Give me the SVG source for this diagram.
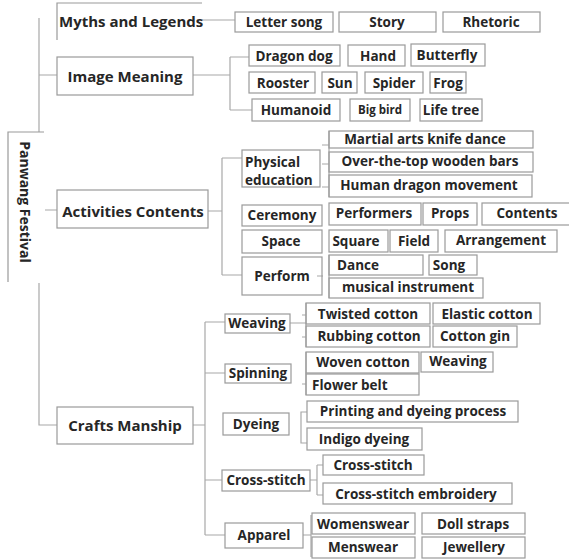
<svg xmlns="http://www.w3.org/2000/svg" width="569" height="560" viewBox="0 0 569 560">
<style>
.b{fill:none;stroke:#9a9a9a;stroke-width:1.2}
.c{fill:none;stroke:#a8a8a8;stroke-width:1.2}
text{font-family:"Open Sans","Noto Sans","DejaVu Sans",sans-serif;font-weight:bold;fill:#262626;dominant-baseline:central}
.t{font-size:13.5px;text-anchor:middle}
.s{font-size:13.5px}
.L{font-size:15px;text-anchor:middle}
</style>
<rect width="569" height="560" fill="#fff"/>
<g id="connectors">
<path class="c" d="M39,18 V132 M39,283 V425 H57 M39,75 H57 M45,210 H57"/>
<path class="c" d="M202,20 H235"/>
<path class="c" d="M193,75 H230 M230,57 V110 M230,57 H249 M230,110 H252"/>
<path class="c" d="M208,211 H222 M222,158 V275 M222,158 H242 M222,275 H242"/>
<path class="c" d="M322,145 H329 M322,164 H329 M322,187 H329 M329,131 V197"/>
<path class="c" d="M317,276 H323 M329,255 V298"/>
<path class="c" d="M193,425 H205 M205,322 V535 M205,322 H225 M205,373 H225 M205,480 H222 M205,535 H225"/>
<path class="c" d="M290,323 H306 M302,315 H306 M302,337 H306 M306,303 V347"/>
<path class="c" d="M302,384 H306 M306,352 V395"/>
<path class="c" d="M307,412 H301 V443 H307"/>
<path class="c" d="M310,480 H317 M317,465 V495 M317,465 H323 M317,495 H323"/>
<path class="c" d="M303,535 H311 M311,515 V557"/>
</g>
<g id="root"><path class="b" d="M44,132 H8 V282"/><text transform="translate(25,202) rotate(90)" style="font-size:14px;text-anchor:middle">Panwang Festival</text></g>
<g id="myths"><path class="b" d="M57,40 V3 H202"/><text x="59" y="21" style="font-size:15px">Myths and Legends</text></g>
<g id="image"><rect class="b" x="57" y="57" width="136" height="38"/><text class="L" x="125" y="76">Image Meaning</text></g>
<g id="activities"><rect class="b" x="57" y="190" width="151" height="38"/><text class="L" x="133" y="211">Activities Contents</text></g>
<g id="crafts"><rect class="b" x="57" y="407" width="136" height="37"/><text class="L" x="125" y="425">Crafts Manship</text></g>

<g id="letter-song"><rect class="b" x="235" y="12" width="98" height="20"/><text class="t" x="284" y="22">Letter song</text></g>
<g id="story"><rect class="b" x="339" y="12" width="97" height="20"/><text class="t" x="387" y="22">Story</text></g>
<g id="rhetoric"><rect class="b" x="443" y="12" width="97" height="20"/><text class="t" x="491" y="22">Rhetoric</text></g>

<g id="dragon-dog"><rect class="b" x="249" y="45" width="91" height="21"/><text class="t" x="294" y="56">Dragon dog</text></g>
<g id="hand"><rect class="b" x="348" y="45" width="57" height="21"/><text class="t" x="378" y="56">Hand</text></g>
<g id="butterfly"><rect class="b" x="411" y="44" width="74" height="22"/><text class="t" x="447" y="55">Butterfly</text></g>
<g id="rooster"><rect class="b" x="249" y="72" width="66" height="21"/><text class="t" x="283" y="83">Rooster</text></g>
<g id="sun"><rect class="b" x="322" y="72" width="35" height="21"/><text class="t" x="340" y="83">Sun</text></g>
<g id="spider"><rect class="b" x="365" y="72" width="58" height="21"/><text class="t" x="394" y="83">Spider</text></g>
<g id="frog"><rect class="b" x="430" y="72" width="36" height="21"/><text class="t" x="448" y="83">Frog</text></g>
<g id="humanoid"><rect class="b" x="252" y="99" width="88" height="22"/><text class="t" x="296" y="110">Humanoid</text></g>
<g id="big-bird"><rect class="b" x="350" y="99" width="60" height="22"/><text class="t" x="380" y="109" style="font-size:11.5px">Big bird</text></g>
<g id="life-tree"><rect class="b" x="420" y="99" width="62" height="22"/><text class="t" x="451" y="110">Life tree</text></g>

<g id="physical"><rect class="b" x="242" y="150" width="78" height="37"/><text class="s" x="245" y="162">Physical</text><text class="s" x="245" y="180">education</text></g>
<g id="ceremony"><rect class="b" x="242" y="205" width="80" height="21"/><text class="t" x="282" y="215">Ceremony</text></g>
<g id="space"><rect class="b" x="242" y="230" width="80" height="23"/><text class="t" x="281" y="241">Space</text></g>
<g id="perform"><rect class="b" x="242" y="257" width="80" height="38"/><text class="t" x="282" y="276">Perform</text></g>

<g id="martial"><rect class="b" x="329" y="131" width="204" height="17"/><text class="t" x="425" y="139">Martial arts knife dance</text></g>
<g id="wooden-bars"><rect class="b" x="329" y="152" width="204" height="20"/><text class="t" x="430" y="161">Over-the-top wooden bars</text></g>
<g id="human-dragon"><rect class="b" x="329" y="175" width="203" height="22"/><text class="t" x="429" y="185">Human dragon movement</text></g>
<g id="performers"><rect class="b" x="329" y="203" width="92" height="22"/><text class="t" x="374" y="213">Performers</text></g>
<g id="props"><rect class="b" x="423" y="203" width="54" height="22"/><text class="t" x="450" y="213">Props</text></g>
<g id="contents"><rect class="b" x="482" y="203" width="90" height="22"/><text class="t" x="527" y="213">Contents</text></g>
<g id="square"><rect class="b" x="329" y="230" width="59" height="22"/><text class="t" x="356" y="241">Square</text></g>
<g id="field"><rect class="b" x="390" y="230" width="48" height="22"/><text class="t" x="414" y="241">Field</text></g>
<g id="arrangement"><rect class="b" x="445" y="230" width="112" height="22"/><text class="t" x="501" y="240">Arrangement</text></g>
<g id="dance"><rect class="b" x="329" y="255" width="94" height="20"/><text class="s" x="337" y="265">Dance</text></g>
<g id="song"><rect class="b" x="429" y="255" width="48" height="20"/><text class="t" x="449" y="265">Song</text></g>
<g id="musical"><rect class="b" x="329" y="278" width="154" height="20"/><text class="t" x="408" y="287">musical instrument</text></g>

<g id="weaving"><rect class="b" x="225" y="314" width="65" height="19"/><text class="t" x="257" y="323">Weaving</text></g>
<g id="spinning"><rect class="b" x="225" y="364" width="66" height="19"/><text class="t" x="258" y="373">Spinning</text></g>
<g id="dyeing"><rect class="b" x="223" y="413" width="66" height="22"/><text class="t" x="256" y="424">Dyeing</text></g>
<g id="cross-stitch"><rect class="b" x="222" y="470" width="88" height="21"/><text class="t" x="266" y="480">Cross-stitch</text></g>
<g id="apparel"><rect class="b" x="225" y="523" width="78" height="25"/><text class="t" x="264" y="535">Apparel</text></g>

<g id="twisted"><rect class="b" x="306" y="303" width="124" height="21"/><text class="t" x="368" y="314">Twisted cotton</text></g>
<g id="elastic"><rect class="b" x="433" y="303" width="107" height="21"/><text class="t" x="487" y="314">Elastic cotton</text></g>
<g id="rubbing"><rect class="b" x="306" y="326" width="124" height="21"/><text class="t" x="369" y="336">Rubbing cotton</text></g>
<g id="gin"><rect class="b" x="433" y="326" width="84" height="21"/><text class="t" x="475" y="336">Cotton gin</text></g>
<g id="woven"><rect class="b" x="306" y="352" width="113" height="21"/><text class="t" x="363" y="362">Woven cotton</text></g>
<g id="weaving2"><rect class="b" x="421" y="352" width="72" height="20"/><text class="t" x="458" y="361">Weaving</text></g>
<g id="flower"><rect class="b" x="306" y="374" width="113" height="21"/><text class="s" x="312" y="385">Flower belt</text></g>
<g id="printing"><rect class="b" x="307" y="401" width="211" height="21"/><text class="t" x="413" y="411">Printing and dyeing process</text></g>
<g id="indigo"><rect class="b" x="307" y="428" width="115" height="22"/><text class="t" x="364" y="439">Indigo dyeing</text></g>
<g id="cross-stitch2"><rect class="b" x="323" y="455" width="101" height="20"/><text class="t" x="373" y="465">Cross-stitch</text></g>
<g id="embroidery"><rect class="b" x="323" y="483" width="189" height="21"/><text class="t" x="416" y="494">Cross-stitch embroidery</text></g>
<g id="womenswear"><rect class="b" x="312" y="513" width="103" height="21"/><text class="t" x="363" y="524">Womenswear</text></g>
<g id="doll"><rect class="b" x="422" y="513" width="103" height="21"/><text class="t" x="473" y="524">Doll straps</text></g>
<g id="menswear"><rect class="b" x="312" y="537" width="103" height="21"/><text class="t" x="363" y="547">Menswear</text></g>
<g id="jewellery"><rect class="b" x="422" y="537" width="103" height="21"/><text class="t" x="474" y="547">Jewellery</text></g>
</svg>
